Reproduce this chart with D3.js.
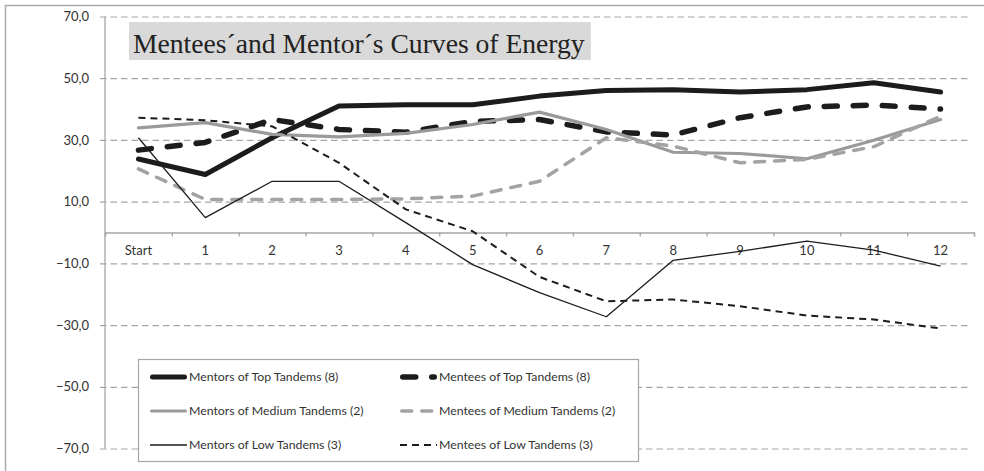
<!DOCTYPE html>
<html>
<head>
<meta charset="utf-8">
<script src="https://cdn.jsdelivr.net/npm/d3@7"></script>
<style>
  html, body { margin: 0; padding: 0; background: #fff; }
  svg { display: block; }
</style>
</head>
<body>
<svg id="chart" width="984" height="471"></svg>
<script>
// Categories along the horizontal axis
const categories = ["Start", "1", "2", "3", "4", "5", "6", "7", "8", "9", "10", "11", "12"];

// Energy values per session for each group
const mentorsTop    = [23.8, 18.8, 30.7, 41.0, 41.4, 41.4, 44.2, 46.0, 46.3, 45.5, 46.3, 48.5, 45.5];
const menteesTop    = [26.7, 29.2, 36.6, 33.4, 32.5, 36.0, 36.6, 32.6, 31.6, 37.2, 40.7, 41.3, 40.0];
const mentorsMedium = [33.9, 35.6, 31.8, 31.0, 32.1, 35.0, 39.0, 33.4, 26.0, 25.6, 23.9, 29.9, 36.6];
const menteesMedium = [20.6, 10.7, 10.7, 10.7, 10.9, 11.8, 16.6, 30.7, 28.0, 22.6, 23.7, 27.8, 37.7];
const mentorsLow    = [30.7, 4.8, 16.6, 16.6, 3.2, -10.4, -19.5, -27.3, -9.0, -6.1, -2.8, -5.7, -10.9];
const menteesLow    = [37.2, 36.4, 34.4, 22.6, 7.5, 0.4, -14.4, -22.3, -21.7, -23.9, -26.9, -28.2, -31.1];

// Series names as shown in the legend
const seriesNames = [
  "Mentors of Top Tandems (8)",
  "Mentees of Top Tandems (8)",
  "Mentors of Medium Tandems (2)",
  "Mentees of Medium Tandems (2)",
  "Mentors of Low Tandems (3)",
  "Mentees of Low Tandems (3)"
];

// Vertical axis ticks
const yTicks = [-70, -50, -30, -10, 10, 30, 50, 70];

const titleText = "Mentees\u00B4and Mentor\u00B4s Curves of Energy";

// Line styles per series
const styles = [
  { color: "#1c1c1c", width: 5,   dash: null,    cap: "round" },
  { color: "#1c1c1c", width: 5.5, dash: "13,16", cap: "round" },
  { color: "#9a9a9a", width: 3.2, dash: null,    cap: "round" },
  { color: "#a3a3a3", width: 3.5, dash: "10,10", cap: "round" },
  { color: "#1c1c1c", width: 1.3, dash: null,    cap: "butt"  },
  { color: "#1c1c1c", width: 2,   dash: "7,5",   cap: "butt"  }
];

const seriesValues = [mentorsTop, menteesTop, mentorsMedium, menteesMedium, mentorsLow, menteesLow];

const svg = d3.select("#chart");
const sans = "Lato, 'Open Sans', sans-serif";

const plotLeft = 105, plotRight = 974, plotTop = 16.5, plotBottom = 448.5;
const gridColor = "#a6a6a6";
const textColor = "#333";

// Outer frame
svg.append("rect")
  .attr("x", 5.5).attr("y", 5.5)
  .attr("width", 990).attr("height", 480)
  .attr("fill", "#fff")
  .attr("stroke", "#ababab")
  .attr("stroke-width", 1.5);

const x = d3.scaleBand().domain(categories).range([plotLeft, plotRight]);
const xEdge = d3.scaleLinear().domain([0, categories.length]).range([plotLeft, plotRight]);
const y = d3.scaleLinear().domain([-70, 70]).range([plotBottom, plotTop]);

const fmt = d3.formatLocale({ decimal: ",", thousands: ".", grouping: [3], currency: ["", ""] }).format(".1f");

// Horizontal dashed gridlines with the value labels
const yAxis = svg.append("g")
  .attr("transform", `translate(100,0)`)
  .call(d3.axisLeft(y).tickValues(yTicks).tickSizeInner(-870).tickSizeOuter(0).tickPadding(11).tickFormat(fmt));
yAxis.select(".domain").remove();
yAxis.selectAll(".tick line")
  .attr("stroke", gridColor)
  .attr("stroke-width", 1.2)
  .attr("stroke-dasharray", "6.5,4");
yAxis.selectAll(".tick text")
  .style("font-family", sans)
  .style("font-size", "13px")
  .attr("fill", textColor);

// Vertical axis line
svg.append("line")
  .attr("x1", plotLeft).attr("x2", plotLeft)
  .attr("y1", y(70)).attr("y2", y(-70))
  .attr("stroke", gridColor).attr("stroke-width", 1.3);

// Horizontal axis at zero with boundary ticks
const xTicks = svg.append("g")
  .attr("transform", `translate(0,${y(0)})`)
  .call(d3.axisBottom(xEdge).tickValues(d3.range(categories.length + 1)).tickSize(4).tickFormat(""));
xTicks.selectAll("path, line").attr("stroke", gridColor).attr("stroke-width", 1.3);

const xLabels = svg.append("g")
  .attr("transform", `translate(0,${y(0)})`)
  .call(d3.axisBottom(x).tickSize(0).tickPadding(13));
xLabels.select(".domain").remove();
xLabels.selectAll(".tick text")
  .style("font-family", sans)
  .style("font-size", "13px")
  .attr("fill", textColor);

// Title with its shaded box
const titleG = svg.append("g");
const titleBox = titleG.append("rect").attr("fill", "#d9d9d9");
const title = titleG.append("text")
  .attr("x", 133).attr("y", 53)
  .style("font-family", "'Liberation Serif', 'Times New Roman', serif")
  .style("font-size", "27.6px")
  .attr("fill", "#222")
  .text(titleText);
const tb = title.node().getBBox();
titleBox.attr("x", 129).attr("y", 22).attr("width", tb.width + 10).attr("height", 38);

// Series lines
const line = d3.line()
  .x((d, i) => x(categories[i]) + x.bandwidth() / 2)
  .y(d => y(d));

seriesValues.forEach((vals, i) => {
  const s = styles[i];
  svg.append("path")
    .datum(vals)
    .attr("d", line)
    .attr("fill", "none")
    .attr("stroke", s.color)
    .attr("stroke-width", s.width)
    .attr("stroke-linejoin", "round")
    .attr("stroke-linecap", s.cap)
    .attr("stroke-dasharray", s.dash);
});

// Legend
const legend = svg.append("g");
legend.append("rect")
  .attr("x", 138.5).attr("y", 359.5)
  .attr("width", 500).attr("height", 102)
  .attr("fill", "#fff")
  .attr("stroke", "#a6a6a6")
  .attr("stroke-width", 1.2);

const rowY = [377, 411, 445];
const colX = [150, 400];
seriesNames.forEach((name, i) => {
  const s = styles[i];
  const cx = colX[i % 2], cy = rowY[Math.floor(i / 2)];
  const inset = s.cap === "round" ? s.width / 2 : 0;
  legend.append("line")
    .attr("x1", cx + inset).attr("x2", cx + 37 - inset)
    .attr("y1", cy).attr("y2", cy)
    .attr("stroke", s.color)
    .attr("stroke-width", s.width)
    .attr("stroke-linecap", s.cap)
    .attr("stroke-dasharray", s.dash);
  legend.append("text")
    .attr("x", cx + 39).attr("y", cy)
    .attr("dy", "0.35em")
    .style("font-family", sans)
    .style("font-size", "12.3px")
    .attr("fill", textColor)
    .text(name);
});
</script>
</body>
</html>
